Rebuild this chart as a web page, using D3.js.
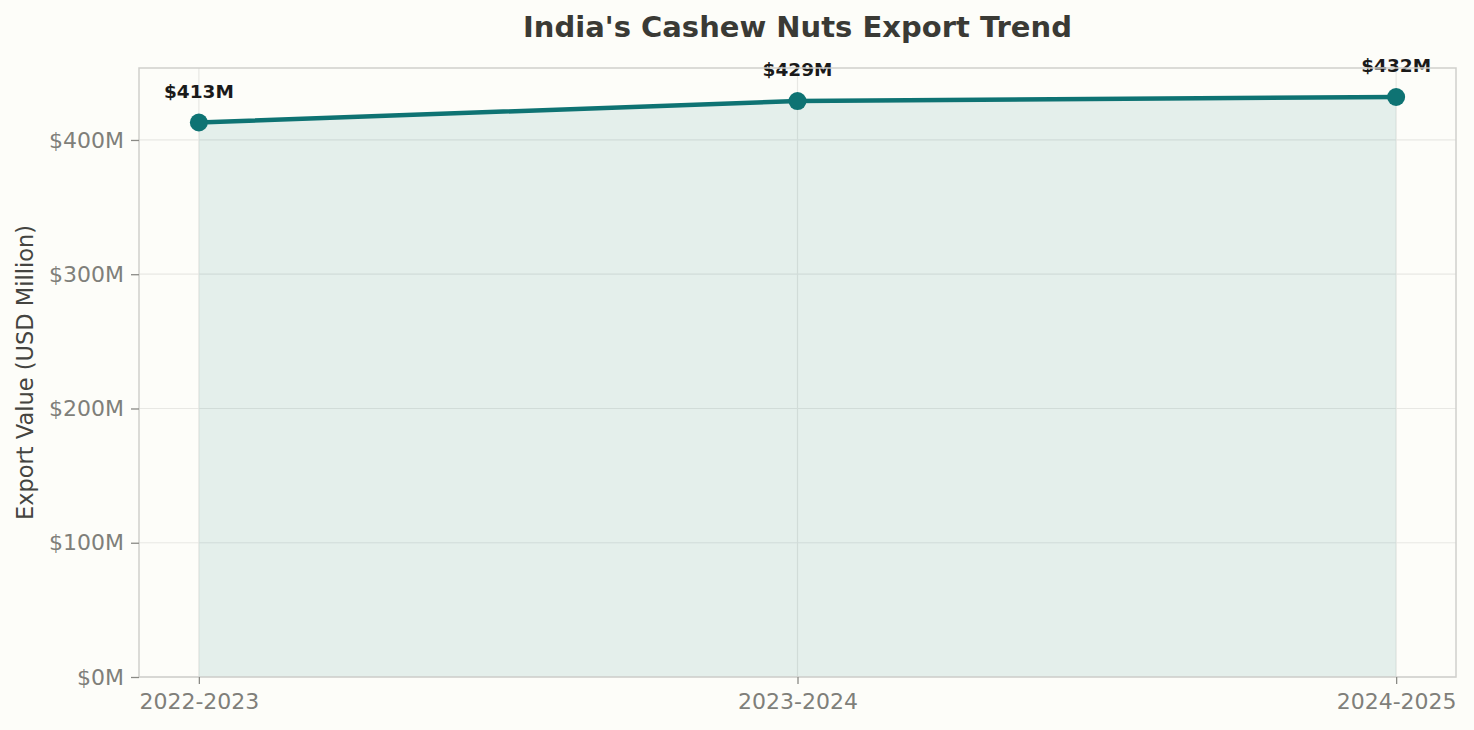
<!DOCTYPE html>
<html><head><meta charset="utf-8">
<script src="https://cdn.jsdelivr.net/npm/d3@7"></script>
<style>
html,body{margin:0;padding:0;background:#fdfdf9;}
svg{display:block;font-family:"DejaVu Sans",sans-serif;}
</style></head>
<body><svg id="c" width="1474" height="730"></svg>
<script>
const years = ["2022-2023","2023-2024","2024-2025"];
const values = [413, 429, 432];
const yTicks = [0,100,200,300,400];

const W=1474,H=730;
const m={left:139,right:18,top:68,bottom:53};
const svg=d3.select("#c");
svg.append("rect").attr("width",W).attr("height",H).attr("fill","#fdfdf9");
const x=d3.scaleLinear().domain([-0.1,2.1]).range([m.left,W-m.right]);
const y=d3.scaleLinear().domain([0,d3.max(values)*1.05]).range([H-m.bottom,m.top]);
const data=years.map((d,i)=>({k:d,i:i,v:values[i]}));

// grid
const g=svg.append("g");
g.selectAll(".hg").data(yTicks).join("line").attr("x1",m.left).attr("x2",W-m.right)
 .attr("y1",d=>y(d)).attr("y2",d=>y(d)).attr("stroke","#e8e8e4").attr("stroke-width",1.2);
g.selectAll(".vg").data(data).join("line").attr("y1",m.top).attr("y2",H-m.bottom)
 .attr("x1",d=>x(d.i)).attr("x2",d=>x(d.i)).attr("stroke","#e8e8e4").attr("stroke-width",1.2);

// area
svg.append("path").datum(data).attr("fill","#0e7373").attr("fill-opacity",0.1)
 .attr("d",d3.area().x(d=>x(d.i)).y0(y(0)).y1(d=>y(d.v)));
// line
svg.append("path").datum(data).attr("fill","none").attr("stroke","#0e7373").attr("stroke-width",4.5)
 .attr("d",d3.line().x(d=>x(d.i)).y(d=>y(d.v)));
svg.selectAll(".pt").data(data).join("circle").attr("cx",d=>x(d.i)).attr("cy",d=>y(d.v)).attr("r",9)
 .attr("fill","#0e7373");
svg.selectAll(".lb").data(data).join("text").attr("x",d=>x(d.i)).attr("y",d=>y(d.v)-25)
 .attr("text-anchor","middle").attr("font-weight","bold").attr("font-size",18.5).attr("fill","#1a1a1a")
 .text(d=>"$"+d.v+"M");

// frame
svg.append("rect").attr("x",m.left).attr("y",m.top).attr("width",W-m.right-m.left).attr("height",H-m.bottom-m.top)
 .attr("fill","none").attr("stroke","#cfcfcc").attr("stroke-width",1.5);

// axes
const xa=svg.append("g").attr("transform",`translate(0,${H-m.bottom})`)
 .call(d3.axisBottom(x).tickValues(d3.range(years.length)).tickFormat(i=>years[i]).tickSize(7).tickPadding(9));
const ya=svg.append("g").attr("transform",`translate(${m.left},0)`)
 .call(d3.axisLeft(y).tickValues(yTicks).tickFormat(d=>"$"+d+"M").tickSize(8).tickPadding(7));
[xa,ya].forEach(a=>{a.select(".domain").remove();
 a.selectAll("line").attr("stroke","#8a8a85").attr("stroke-width",1.3);
 a.selectAll("text").attr("fill","#7f7f7a").attr("font-size",22).attr("font-family","DejaVu Sans");});

svg.append("text").attr("transform",`translate(33,${(m.top+H-m.bottom)/2}) rotate(-90)`)
 .attr("text-anchor","middle").attr("font-size",22.5).attr("fill","#444440").text("Export Value (USD Million)");
svg.append("text").attr("x",(m.left+W-m.right)/2).attr("y",37).attr("text-anchor","middle")
 .attr("font-size",29).attr("font-weight","bold").attr("fill","#3a3a35").text("India's Cashew Nuts Export Trend");
</script></body></html>
